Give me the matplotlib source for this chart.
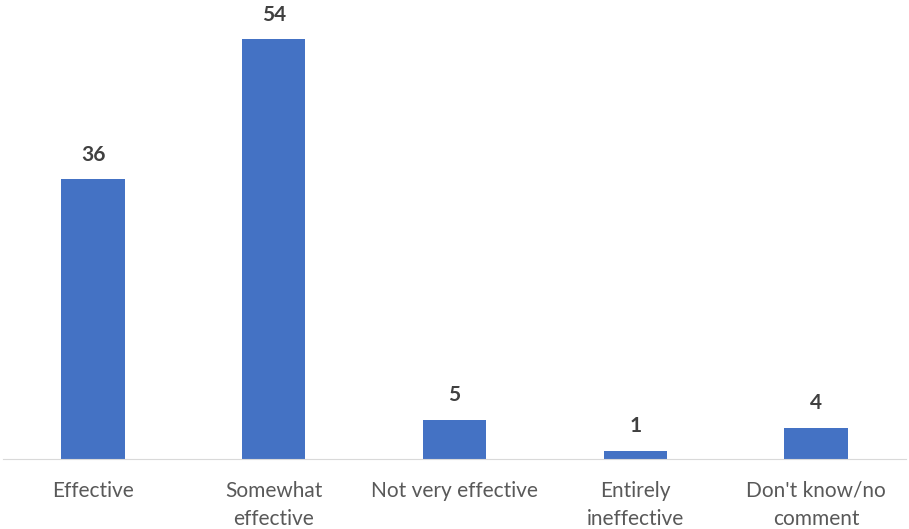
import matplotlib.pyplot as plt

# survey answers
categories = ["Effective", "Somewhat\neffective", "Not very effective",
              "Entirely\nineffective", "Don't know/no\ncomment"]
values = [36, 54, 5, 1, 4]

plt.rcParams['font.family'] = ['Lato', 'DejaVu Sans']

fig = plt.figure(figsize=(9.09, 5.29), dpi=100)
ax = fig.add_axes([0.003, 0.133, 0.994, 0.857])

x = range(len(values))
bars = ax.bar(x, values, width=0.35, color="#4472C4")

for b, v in zip(bars, values):
    ax.text(b.get_x() + b.get_width() / 2, v + 2.4, str(v), ha="center",
            va="baseline", fontsize=15, fontweight="bold", color="#404040")

ax.set_xlim(-0.5, len(values) - 0.5)
ax.set_ylim(0, 58.4)
ax.set_xticks(list(x))
ax.set_xticklabels(categories, fontsize=15, color="#595959", linespacing=1.5)
ax.tick_params(axis="x", length=0, pad=16)
ax.set_yticks([])

for s in ["top", "right", "left"]:
    ax.spines[s].set_visible(False)
ax.spines["bottom"].set_color("#d9d9d9")

fig.savefig("out.png", dpi=100)
